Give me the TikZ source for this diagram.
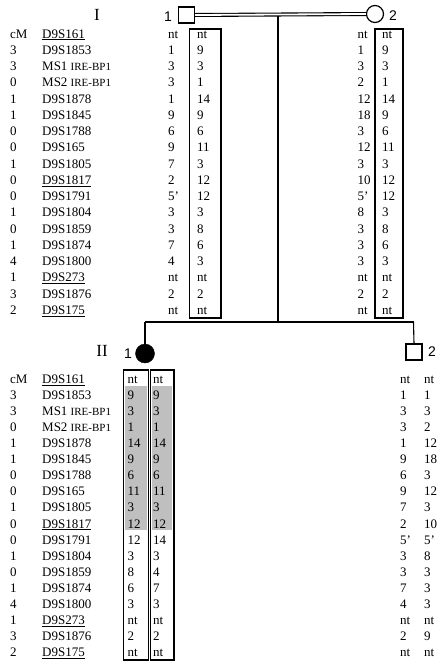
\documentclass[tikz,border=0pt]{standalone}
\usepackage{fontspec}
\setmainfont{Liberation Serif}
\newfontfamily\pedsans{Liberation Sans}
\begin{document}
\begin{tikzpicture}[x=1pt,y=-1pt,
  txt/.style={anchor=base west,inner sep=0pt,font=\fontsize{13}{14}\selectfont},
  gen/.style={anchor=center,inner sep=0pt,font=\fontsize{17}{18}\selectfont},
  idlab/.style={anchor=center,inner sep=0pt,font=\pedsans\fontsize{14}{15}\selectfont},
  allelebox/.style={draw,line width=1.4pt},
  sq/.style={draw,line width=1.2pt,minimum size=16pt,inner sep=0pt},
  circ/.style={draw,circle,line width=1.2pt,minimum size=17pt,inner sep=0pt},
  affected/.style={circle,fill=black,draw,minimum size=19pt,inner sep=0pt},
  ped/.style={line width=1.1pt},
  shade/.style={fill=black!25}]
\useasboundingbox (0,0) rectangle (437,662);
\newcommand{\ire}{{\fontsize{11}{12}\selectfont IRE-BP1}}
% ---------- pedigree ----------
\node[gen] (genI) at (97,15) {I};
\node[sq] (p1) at (186.5,15) {};
\node[idlab] (l1) at (168,16.5) {1};
\node[circ] (p2) at (375,14) {};
\node[idlab] (l2) at (393,15.5) {2};
\draw[double,double distance=1.8pt,line width=1.1pt] (p1.east) -- (p2.west);
\coordinate (mid) at (278,15.5);
\coordinate (sib) at (278,322);
\coordinate (sl) at (145,322);
\coordinate (sr) at (413.5,322);
\draw[ped] (mid) -- (sib);
\draw[ped] (sl) -- (sr);
\node[gen] (genII) at (102,351) {II};
\node[affected] (c1) at (145,353.5) {};
\node[idlab] (lc1) at (128,354) {1};
\node[sq] (c2) at (414,352) {};
\node[idlab] (lc2) at (432,352) {2};
\draw[ped] (sl) -- (c1.north);
\draw[ped] (sr) -- (c2.north);
% ---------- shading (generation II, individual 1) ----------
\fill[shade] (125,386) rectangle (147,530);
\fill[shade] (152,386) rectangle (172,530);
% ---------- boxes ----------
\draw[allelebox] (189.5,29) rectangle (221,318);
\draw[allelebox] (375,29) rectangle (403,318);
\draw[allelebox] (123.5,370) rectangle (148.5,660);
\draw[allelebox] (150.5,370) rectangle (174,660);
% ---------- generation I table ----------
\foreach \v [count=\i from 0] in {cM,3,3,0,1,1,0,0,1,0,0,1,0,1,4,1,3,2}
  \node[txt] (tcm\i) at (10,38+16.26*\i) {\v};
\foreach \v [count=\i from 0] in {\underline{D9S161},D9S1853,MS1 \ire,MS2 \ire,D9S1878,D9S1845,D9S1788,D9S165,D9S1805,\underline{D9S1817},D9S1791,D9S1804,D9S1859,D9S1874,D9S1800,\underline{D9S273},D9S1876,\underline{D9S175}}
  \node[txt] (tmk\i) at (42,38+16.26*\i) {\v};
\foreach \v [count=\i from 0] in {nt,1,3,3,1,9,6,9,7,2,5',3,3,7,4,nt,2,nt}
  \node[txt] (ta\i) at (168,38+16.26*\i) {\v};
\foreach \v [count=\i from 0] in {nt,9,3,1,14,9,6,11,3,12,12,3,8,6,3,nt,2,nt}
  \node[txt] (tb\i) at (197,38+16.26*\i) {\v};
\foreach \v [count=\i from 0] in {nt,1,3,2,12,18,3,12,3,10,5',8,3,3,3,nt,2,nt}
  \node[txt] (tc\i) at (357.5,38+16.26*\i) {\v};
\foreach \v [count=\i from 0] in {nt,9,3,1,14,9,6,11,3,12,12,3,8,6,3,nt,2,nt}
  \node[txt] (td\i) at (382,38+16.26*\i) {\v};
% ---------- generation II table ----------
\foreach \v [count=\i from 0] in {cM,3,3,0,1,1,0,0,1,0,0,1,0,1,4,1,3,2}
  \node[txt] (bcm\i) at (10,383.5+16.06*\i) {\v};
\foreach \v [count=\i from 0] in {\underline{D9S161},D9S1853,MS1 \ire,MS2 \ire,D9S1878,D9S1845,D9S1788,D9S165,D9S1805,\underline{D9S1817},D9S1791,D9S1804,D9S1859,D9S1874,D9S1800,\underline{D9S273},D9S1876,\underline{D9S175}}
  \node[txt] (bmk\i) at (42,383.5+16.06*\i) {\v};
\foreach \v [count=\i from 0] in {nt,9,3,1,14,9,6,11,3,12,12,3,8,6,3,nt,2,nt}
  \node[txt] (ba\i) at (127.5,383.5+16.06*\i) {\v};
\foreach \v [count=\i from 0] in {nt,9,3,1,14,9,6,11,3,12,14,3,4,7,3,nt,2,nt}
  \node[txt] (bb\i) at (153,383.5+16.06*\i) {\v};
\foreach \v [count=\i from 0] in {nt,1,3,3,1,9,6,9,7,2,5',3,3,7,4,nt,2,nt}
  \node[txt] (bc\i) at (400,383.5+16.06*\i) {\v};
\foreach \v [count=\i from 0] in {nt,1,3,2,12,18,3,12,3,10,5',8,3,3,3,nt,9,nt}
  \node[txt] (bd\i) at (424,383.5+16.06*\i) {\v};
\end{tikzpicture}
\end{document}
